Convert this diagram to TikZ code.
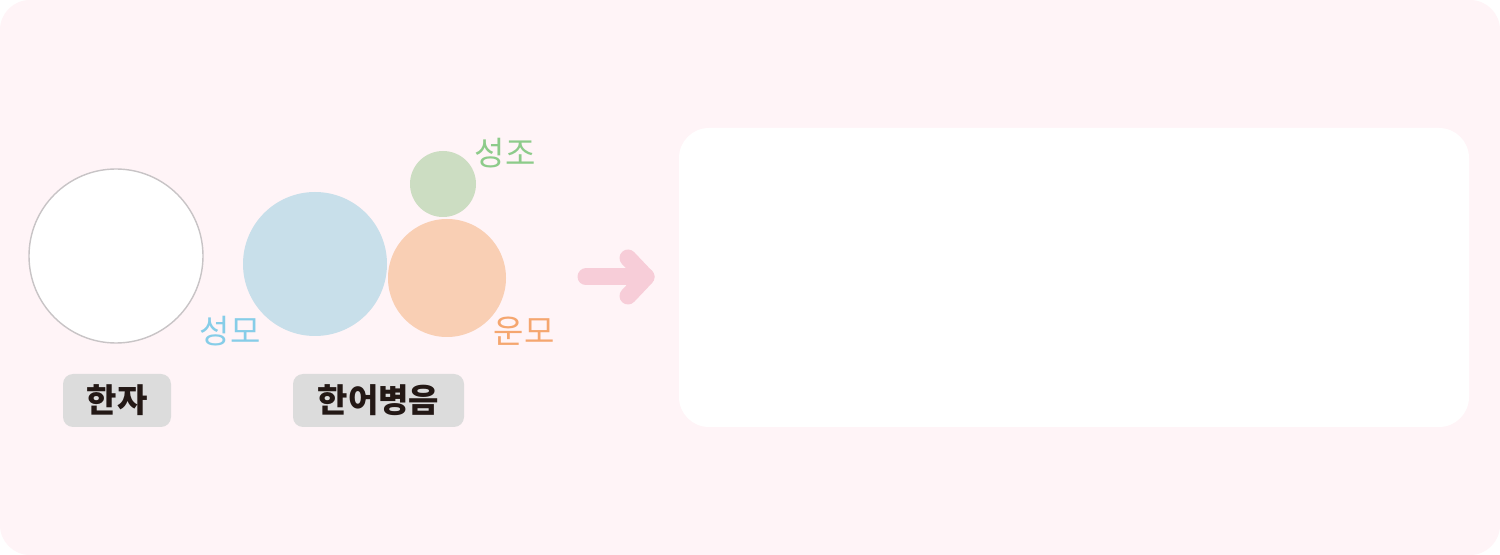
\documentclass[tikz,border=0pt]{standalone}
\usepackage{fontspec}
\setmainfont{Noto Sans CJK KR}
\definecolor{bgpink}{HTML}{FFF4F7}
\definecolor{ringgray}{HTML}{C8C4C6}
\definecolor{hanblue}{HTML}{C8DFEA}
\definecolor{hangreen}{HTML}{CCDDC2}
\definecolor{hanorange}{HTML}{F9CFB4}
\definecolor{txtblue}{HTML}{86CDE8}
\definecolor{txtgreen}{HTML}{8DCB8A}
\definecolor{txtorange}{HTML}{F5A66F}
\definecolor{tagfill}{HTML}{DCDCDC}
\definecolor{tagtext}{HTML}{231815}
\definecolor{arrowpink}{HTML}{F7CDD8}
\tikzset{
  blob/.style={circle, inner sep=0pt},
  part/.style={font=\fontsize{16.5}{18}\selectfont, inner sep=0pt},
  tag/.style={fill=tagfill, rounded corners=5pt, minimum height=26.5pt,
    inner xsep=11pt, font=\bfseries\fontsize{16.5}{18}\selectfont, text=tagtext}
}
\begin{document}
\begin{tikzpicture}[x=0.5pt, y=-0.5pt]
  \useasboundingbox (0,0) rectangle (1500,555);
  \fill[white] (0,0) rectangle (1500,555);
  \fill[bgpink, rounded corners=15pt] (0,0) rectangle (1500,555);

  % circles
  \node[blob, draw=ringgray, line width=0.7pt, fill=white, minimum size=87pt] (hanja) at (116,256) {};
  \node[blob, fill=hanblue, minimum size=72pt] (shengmu) at (315,264) {};
  \node[blob, fill=hangreen, minimum size=33pt] (tone) at (443,184) {};
  \node[blob, fill=hanorange, minimum size=59pt] (yunmu) at (447,278) {};

  % labels
  \node[part, text=txtblue] (lblsm) at (230,331) {성모};
  \node[part, text=txtgreen] (lbltone) at (505,153) {성조};
  \node[part, text=txtorange] (lblym) at (524,331) {운모};

  \node[tag, minimum width=54pt] (taghanja) at (117,400.5) {한자};
  \node[tag, minimum width=85.5pt] (tagpinyin) at (378.5,400.5) {한어병음};

  % arrow
  \coordinate (arrtail) at (586,277);
  \coordinate (arrtip) at (646,277);
  \draw[arrowpink, line width=8.5pt, line cap=round] (arrtail) -- (arrtip);
  \draw[arrowpink, line width=8.5pt, line cap=round, line join=round]
    ([shift={(-18,-19)}]arrtip) -- (arrtip) -- ([shift={(-18,19)}]arrtip);

  % result box
  \fill[white, rounded corners=15pt] (679,128) rectangle (1469,427);
\end{tikzpicture}
\end{document}
